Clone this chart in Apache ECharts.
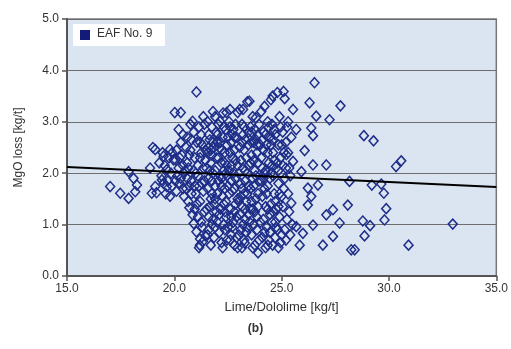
<!DOCTYPE html>
<html><head><meta charset="utf-8">
<script src="https://cdn.jsdelivr.net/npm/echarts@6/dist/echarts.min.js"></script>
<style>html,body{margin:0;padding:0;background:#fff}#c{width:511px;height:349px}</style>
</head><body><div id="c"></div>
<script>
const seriesName = 'EAF No. 9';
const xTicks = [15.0, 20.0, 25.0, 30.0, 35.0];
const yTicks = [0.0, 1.0, 2.0, 3.0, 4.0, 5.0];
const trendLine = [[15, 2.12], [35, 1.73]];

const leftPoints = [[17.01,1.74],[17.48,1.61],[17.87,1.51],[17.87,2.03],[18.1,1.9],[18.26,1.77],[18.18,1.64],[19.11,2.46],[18.87,2.1],[18.95,1.61],[19.11,1.74],[19.42,1.87],[19.5,2.33],[19.65,2.07],[19.8,2.46],[19.65,1.74],[19.96,2.26],[20.02,3.18],[19.3,2.2],[19.4,1.95],[19.55,2.15],[19.7,1.85],[19.85,2.0],[19.9,1.75],[19.75,2.3],[19.6,1.6],[19.45,2.4],[19.9,2.4],[19.8,1.55],[19.5,1.8],[19.0,2.5],[19.17,1.62]];

const clusterA = [[20.05,2.26],[20.1,2.45],[20.15,1.95],[20.2,2.1],[20.25,1.8],[20.3,3.18],[20.3,2.6],[20.35,2.35],[20.4,1.7],[20.45,2.0],[20.1,1.65],[20.2,2.85],[20.45,1.55],[20.4,2.75],[20.3,1.9],[20.05,1.85],
[20.55,2.5],[20.6,2.2],[20.65,1.45],[20.7,1.33],[20.75,2.95],[20.8,2.65],[20.85,3.01],[20.85,1.19],[20.9,2.05],[20.95,1.75],[20.6,1.9],[20.7,2.35],[20.8,1.6],[20.9,2.8],[20.95,1.3],[20.55,1.7],[20.65,2.1],[20.75,2.45],[20.9,1.02],[20.8,1.85],[20.6,2.7],
[21.03,3.58],[21.03,0.86],[21.05,2.6],[21.1,1.95],[21.1,1.15],[21.15,2.9],[21.19,0.6],[21.2,2.3],[21.2,1.45],[21.25,2.75],[21.3,0.95],[21.33,0.67],[21.35,2.1],[21.35,1.65],[21.4,2.95],[21.4,1.25],[21.45,2.45],[21.45,0.78],[21.1,2.15],[21.15,1.75],[21.25,1.05],[21.3,2.55],[21.4,1.85],[21.45,2.25],[21.2,0.72],[21.05,1.4],[21.35,3.1],[21.15,0.55],
[21.55,3.0],[21.55,2.4],[21.6,1.9],[21.6,0.9],[21.65,2.65],[21.65,1.35],[21.7,2.2],[21.7,0.6],[21.75,2.9],[21.75,1.6],[21.8,2.0],[21.8,1.1],[21.85,2.5],[21.85,0.75],[21.9,3.1],[21.9,1.75],[21.95,2.3],[21.95,1.25],[21.6,2.75],[21.7,1.5],[21.8,2.6],[21.9,0.95],[21.55,1.7],[21.65,2.05],[21.75,1.0],[21.85,1.4],[21.95,2.8],[21.6,1.15],[21.8,3.2],[21.7,2.45]];

const clusterB = [[22.05,2.95],[22.05,1.85],[22.1,2.5],[22.1,0.85],[22.12,3.01],[22.15,1.3],[22.2,2.2],[22.2,0.65],[22.25,2.7],[22.25,1.55],[22.27,3.17],[22.3,2.05],[22.3,1.0],[22.35,2.4],[22.35,1.7],[22.4,2.85],[22.4,1.15],[22.43,3.18],[22.45,2.15],[22.45,0.7],[22.05,2.3],[22.15,2.6],[22.2,1.75],[22.3,1.4],[22.35,0.9],[22.4,2.0],[22.1,1.2],[22.25,0.55],[22.45,2.55],[22.15,1.95],[22.3,2.9],[22.4,1.45],
[22.55,3.0],[22.55,2.05],[22.6,3.24],[22.6,1.3],[22.65,2.6],[22.65,0.8],[22.7,2.3],[22.7,1.65],[22.75,2.85],[22.75,1.05],[22.8,2.45],[22.8,0.6],[22.85,1.9],[22.85,1.4],[22.9,2.7],[22.9,1.15],[22.95,3.18],[22.95,2.15],[22.55,1.6],[22.6,2.4],[22.7,0.95],[22.75,2.0],[22.8,1.25],[22.85,2.95],[22.9,0.75],[22.95,1.5],[22.65,1.85],[22.85,2.25],[22.6,0.7],[22.95,0.55],[22.7,2.75],
[23.05,3.24],[23.05,2.5],[23.1,1.8],[23.1,0.9],[23.15,2.95],[23.15,1.35],[23.2,3.24],[23.2,2.1],[23.25,1.6],[23.25,0.7],[23.28,0.64],[23.3,2.65],[23.3,1.1],[23.35,2.3],[23.35,1.45],[23.4,3.39],[23.4,2.0],[23.45,2.8],[23.45,1.2],[23.5,3.4],[23.05,1.2],[23.1,2.25],[23.2,1.0],[23.25,2.45],[23.3,1.85],[23.35,0.85],[23.4,1.6],[23.45,2.55],[23.15,0.55],[23.4,0.95],[23.2,2.75],[23.1,1.55]];

const clusterC = [[23.55,2.9],[23.55,1.7],[23.6,2.35],[23.6,0.8],[23.65,3.1],[23.65,1.3],[23.7,2.6],[23.7,1.0],[23.75,2.05],[23.75,0.6],[23.8,3.08],[23.8,1.5],[23.85,2.4],[23.85,1.15],[23.9,0.45],[23.9,2.75],[23.95,1.85],[23.95,0.7],[23.55,2.2],[23.6,1.45],[23.7,2.25],[23.75,1.25],[23.8,2.65],[23.85,0.9],[23.95,2.95],[23.65,0.55],[23.9,1.6],[23.6,2.8],[23.7,1.75],
[24.05,3.2],[24.05,2.3],[24.1,1.55],[24.1,0.75],[24.15,2.8],[24.15,1.1],[24.2,3.3],[24.2,2.0],[24.25,1.35],[24.25,0.55],[24.3,2.55],[24.3,0.95],[24.35,3.0],[24.35,1.75],[24.4,2.2],[24.4,0.7],[24.45,2.7],[24.45,1.2],[24.5,3.43],[24.05,1.85],[24.15,2.45],[24.2,0.85],[24.3,1.6],[24.35,0.6],[24.4,2.9],[24.45,1.9],[24.1,2.65],[24.25,2.05],[24.45,0.85],
[24.55,2.95],[24.55,1.05],[24.58,3.5],[24.58,0.6],[24.6,2.4],[24.65,1.6],[24.7,2.75],[24.7,0.75],[24.75,2.1],[24.75,1.3],[24.8,3.57],[24.8,0.9],[24.85,2.55],[24.85,1.8],[24.9,3.1],[24.9,1.15],[24.95,2.3],[24.95,0.65],[24.6,1.95],[24.65,2.85],[24.7,1.45],[24.8,2.2],[24.85,0.55],[24.9,1.6],[24.95,2.9],[24.55,2.15],[24.75,0.95],[24.6,1.25],
[25.05,2.8],[25.06,1.35],[25.09,3.59],[25.14,0.9],[25.14,3.45],[25.1,2.4],[25.15,1.9],[25.2,2.6],[25.22,2.36],[25.25,1.1],[25.3,3.0],[25.3,1.6],[25.35,2.1],[25.4,0.8],[25.45,1.42],[25.45,2.7],[25.5,1.0],[25.53,3.24],[25.53,2.23],[25.05,2.15],[25.2,0.7],[25.1,1.7],[25.35,1.25],[25.25,2.9],[25.4,1.95]];

const clusterD = [[20.25,2.3],[20.5,2.05],[20.7,1.75],[20.95,2.3],[21.0,2.0],[21.25,2.4],[21.3,1.8],[21.5,2.1],[21.5,1.3],[21.55,0.8],[21.75,2.35],[21.75,1.85],[21.9,2.05],[21.9,1.5],[22.0,2.6],[22.0,1.05],[22.2,2.45],[22.2,1.9],[22.35,2.2],[22.35,1.25],[22.5,2.7],[22.5,1.75],[22.5,0.95],[22.65,2.15],[22.65,1.15],[22.8,2.7],[22.8,1.7],[23.0,2.0],[23.0,1.45],[23.0,0.8],[23.15,2.6],[23.15,1.7],[23.3,2.05],[23.3,1.3],[23.45,2.15],[23.45,1.75],[23.5,1.05],[23.6,2.6],[23.65,1.9],[23.75,2.85],[23.8,1.95],[23.9,2.2],[23.9,1.35],[24.0,2.55],[24.0,1.05],[24.1,2.1],[24.2,1.7],[24.25,2.75],[24.35,2.4],[24.35,1.3],[24.5,2.55],[24.5,2.0],[24.5,1.4],[24.65,2.25],[24.7,1.05],[24.85,2.05],[24.85,1.35],[25.0,2.55],[25.0,1.55],[25.0,0.8],[25.2,2.1],[25.3,2.4],[21.2,2.6],[21.6,2.5],[22.0,2.75],[22.6,2.9],[23.25,2.9],[23.85,2.55],[24.6,2.65],[20.4,2.15],[21.0,1.6],[22.0,1.6],[22.45,1.95],[23.55,1.3],[24.15,1.9]];

const rightPoints = [[26.53,3.76],[26.3,3.37],[27.74,3.31],[26.61,3.11],[27.23,3.04],[25.68,2.85],[26.38,2.88],[26.46,2.73],[26.07,2.44],[26.46,2.16],[27.08,2.16],[25.92,2.03],[28.16,1.84],[26.69,1.77],[26.22,1.71],[26.38,1.55],[26.22,1.38],[28.08,1.38],[27.39,1.29],[27.08,1.19],[27.7,1.03],[26.46,0.99],[25.68,0.96],[25.99,0.83],[27.39,0.77],[26.92,0.6],[25.84,0.6],[28.24,0.51],
[28.83,2.73],[29.28,2.63],[30.33,2.13],[30.57,2.24],[29.2,1.77],[29.64,1.79],[29.76,1.61],[29.87,1.31],[29.79,1.09],[28.78,1.07],[29.12,0.98],[28.86,0.78],[30.91,0.6],[32.97,1.01],[28.4,0.51]];

const points = [].concat(leftPoints, clusterA, clusterB, clusterC, clusterD, rightPoints);

const font = 'Liberation Sans, Arial, sans-serif';
const chart = echarts.init(document.getElementById('c'), null, {renderer:'canvas'});
chart.setOption({
  animation: false,
  backgroundColor: '#fff',
  grid: {left: 67, right: 14, top: 19, bottom: 73, show: true, backgroundColor: '#dbe5f1', borderColor: '#777', borderWidth: 1.5},
  legend: {show: false},
  xAxis: {
    type: 'value', min: 15, max: 35, interval: 5,
    name: 'Lime/Dololime [kg/t]', nameLocation: 'middle', nameGap: 25,
    nameTextStyle: {fontFamily: font, fontSize: 13, color: '#333'},
    axisLine: {show: true, lineStyle: {color: '#555', width: 2}},
    axisTick: {show: true, inside: false, length: 5, lineStyle: {color: '#555', width: 1.5}},
    axisLabel: {fontFamily: font, fontSize: 12, color: '#333', margin: 7, formatter: v => v.toFixed(1)},
    splitLine: {show: false}
  },
  yAxis: {
    type: 'value', min: 0, max: 5, interval: 1,
    name: 'MgO loss [kg/t]', nameLocation: 'middle', nameGap: 42,
    nameTextStyle: {fontFamily: font, fontSize: 12, color: '#333'},
    axisLine: {show: true, lineStyle: {color: '#555', width: 2}},
    axisTick: {show: true, inside: false, length: 5, lineStyle: {color: '#555', width: 1.5}},
    axisLabel: {fontFamily: font, fontSize: 12, color: '#333', margin: 8, formatter: v => v.toFixed(1)},
    splitLine: {show: true, lineStyle: {color: '#6e6e6e', width: 1}}
  },
  graphic: [
    {type: 'rect', left: 73, top: 24, shape: {width: 92, height: 22}, style: {fill: '#fff'}, z: 10},
    {type: 'rect', left: 80, top: 30, shape: {width: 10, height: 10}, style: {fill: '#121c78'}, z: 11},
    {type: 'text', left: 97, top: 28, style: {text: seriesName, font: '12px ' + font, fill: '#333'}, z: 11},
    {type: 'text', left: 'center', top: 323, x: 20, style: {text: '(b)', font: 'bold 12px ' + font, fill: '#333'}}
  ],
  series: [
    {name: seriesName, type: 'scatter', data: points, symbol: 'diamond', symbolSize: [9, 10],
     itemStyle: {color: 'rgba(255,255,255,0)', borderColor: '#1d2d88', borderWidth: 1.5, opacity: 1}, z: 2},
    {name: 'trend', type: 'line', data: trendLine, showSymbol: false, symbol: 'none',
     lineStyle: {color: '#000', width: 2}, z: 3}
  ]
});
</script></body></html>
